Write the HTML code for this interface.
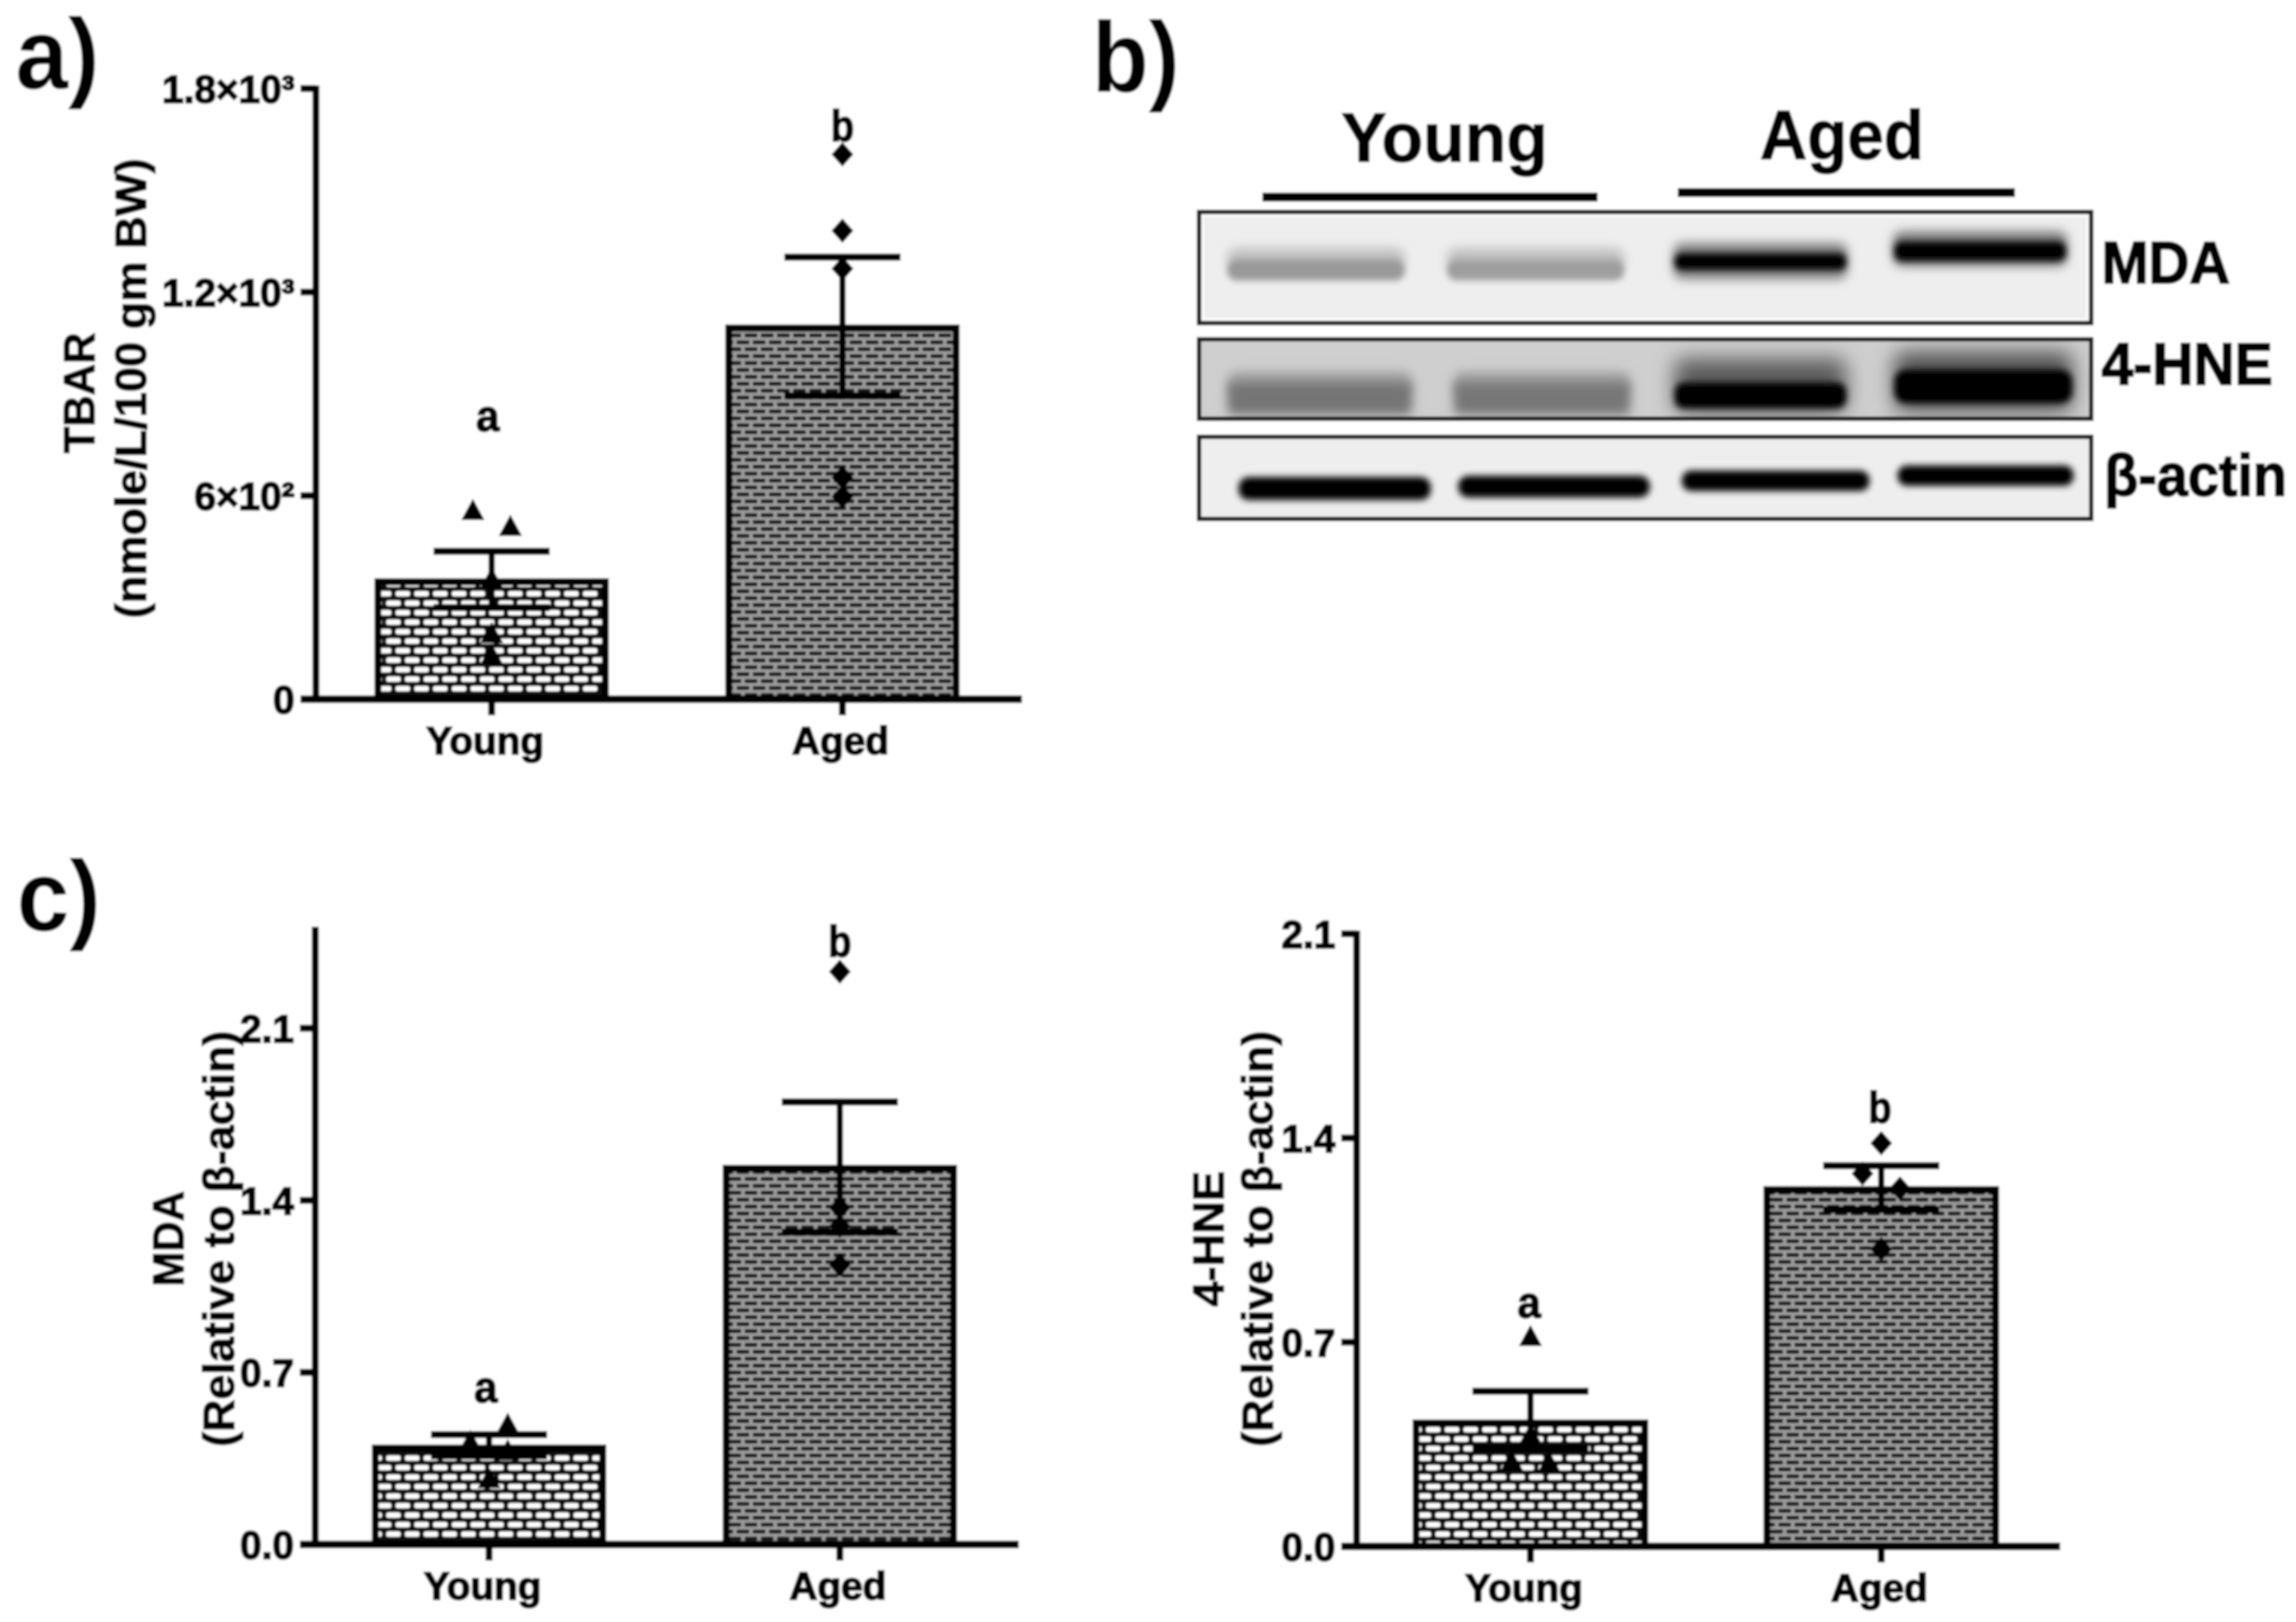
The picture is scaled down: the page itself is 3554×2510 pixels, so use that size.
<!DOCTYPE html>
<html lang="en">
<head>
<meta charset="utf-8">
<title>Oxidative stress markers in young and aged groups</title>
<style>
  html, body { margin: 0; padding: 0; background: #fff; }
  svg { display: block; }
  text { font-family: "Liberation Sans", "DejaVu Sans", sans-serif; font-weight: bold; fill: #000; }
  .heavy { stroke: #000; stroke-width: 1.8px; }
  .heavier { stroke: #000; stroke-width: 2.6px; }
</style>
</head>
<body>
<svg id="figure" xmlns="http://www.w3.org/2000/svg" width="3554" height="2510" viewBox="0 0 3554 2510">
  <defs>
    <filter id="soft" filterUnits="userSpaceOnUse" x="0" y="0" width="3554" height="2510"><feGaussianBlur stdDeviation="1.5"/></filter>
    <filter id="b5" x="-20%" y="-100%" width="140%" height="300%"><feGaussianBlur stdDeviation="5"/></filter>
    <filter id="b8" x="-20%" y="-100%" width="140%" height="300%"><feGaussianBlur stdDeviation="8"/></filter>
    <filter id="b16" x="-20%" y="-100%" width="140%" height="300%"><feGaussianBlur stdDeviation="16"/></filter>
    <pattern id="brick-young" patternUnits="userSpaceOnUse" width="29" height="29.4">
      <rect width="29" height="29.4" fill="#111"/>
      <rect x="3.5" y="3.3" width="22" height="8" rx="3" fill="#fff"/>
      <rect x="-11" y="18" width="22" height="8" rx="3" fill="#fff"/>
      <rect x="18" y="18" width="22" height="8" rx="3" fill="#fff"/>
    </pattern>
    <pattern id="brick-aged" patternUnits="userSpaceOnUse" width="25" height="21.4">
      <rect width="25" height="21.4" fill="#9c9c9c"/>
      <rect x="2.5" y="2.4" width="20" height="6" rx="2" fill="#161616"/>
      <rect x="-10" y="13.1" width="20" height="6" rx="2" fill="#161616"/>
      <rect x="15" y="13.1" width="20" height="6" rx="2" fill="#161616"/>
    </pattern>
    <clipPath id="clip-blot-mda"><rect x="1856" y="328" width="1381" height="173"/></clipPath>
    <clipPath id="clip-blot-hne"><rect x="1856" y="525" width="1381" height="123"/></clipPath>
    <clipPath id="clip-blot-actin"><rect x="1856" y="676" width="1381" height="127"/></clipPath>
  </defs>

  <g id="page" filter="url(#soft)">
    <rect x="0" y="0" width="3554" height="2510" fill="#fff"/>

    <!-- Panel letters -->
    <text x="24" y="137" font-size="155" textLength="130" lengthAdjust="spacingAndGlyphs">a)</text>
    <text x="1690" y="142" font-size="155" textLength="136" lengthAdjust="spacingAndGlyphs">b)</text>
    <text x="26" y="1440" font-size="155" textLength="130" lengthAdjust="spacingAndGlyphs">c)</text>

    <!-- Chart containers (filled by the script) -->
    <g id="chart-tbar"></g>
    <g id="chart-mda"></g>
    <g id="chart-hne"></g>

    <!-- Axis titles -->
    <text class="heavy" transform="translate(146,608) rotate(-90)" text-anchor="middle" font-size="68" textLength="187" lengthAdjust="spacingAndGlyphs">TBAR</text>
    <text class="heavy" transform="translate(226,601) rotate(-90)" text-anchor="middle" font-size="68" textLength="712" lengthAdjust="spacingAndGlyphs">(nmole/L/100 gm BW)</text>
    <text class="heavy" transform="translate(284,1917) rotate(-90)" text-anchor="middle" font-size="68" textLength="148" lengthAdjust="spacingAndGlyphs">MDA</text>
    <text class="heavy" transform="translate(362,1917) rotate(-90)" text-anchor="middle" font-size="68" textLength="644" lengthAdjust="spacingAndGlyphs">(Relative to β-actin)</text>
    <text class="heavy" transform="translate(1894,1917) rotate(-90)" text-anchor="middle" font-size="68" textLength="210" lengthAdjust="spacingAndGlyphs">4-HNE</text>
    <text class="heavy" transform="translate(1970,1917) rotate(-90)" text-anchor="middle" font-size="68" textLength="644" lengthAdjust="spacingAndGlyphs">(Relative to β-actin)</text>

    <!-- Significance letters -->
    <text class="heavier" x="755" y="667" font-size="68" text-anchor="middle" textLength="36" lengthAdjust="spacingAndGlyphs">a</text>
    <text class="heavier" x="1304" y="218" font-size="68" text-anchor="middle" textLength="36" lengthAdjust="spacingAndGlyphs">b</text>
    <text class="heavier" x="752" y="2170" font-size="68" text-anchor="middle" textLength="36" lengthAdjust="spacingAndGlyphs">a</text>
    <text class="heavier" x="1300" y="1480" font-size="68" text-anchor="middle" textLength="36" lengthAdjust="spacingAndGlyphs">b</text>
    <text class="heavier" x="2367" y="2039" font-size="68" text-anchor="middle" textLength="36" lengthAdjust="spacingAndGlyphs">a</text>
    <text class="heavier" x="2910" y="1737" font-size="68" text-anchor="middle" textLength="36" lengthAdjust="spacingAndGlyphs">b</text>

    <!-- Panel b: western blot -->
    <g id="western-blot">
      <text class="heavy" x="2076" y="250" font-size="108" textLength="320" lengthAdjust="spacingAndGlyphs">Young</text>
      <text class="heavy" x="2724" y="246" font-size="108" textLength="254" lengthAdjust="spacingAndGlyphs">Aged</text>
      <rect x="1954" y="298" width="519" height="14" fill="#000"/>
      <rect x="2597" y="291" width="522" height="14" fill="#000"/>

      <g>
        <rect x="1856" y="328" width="1381" height="172" fill="#eeeeee"/>
        <g clip-path="url(#clip-blot-mda)">
          <rect x="1900" y="384" width="274" height="34" rx="14" fill="#c0c0c0" filter="url(#b8)"/>
          <rect x="1900" y="402" width="274" height="32" rx="14" fill="#999" filter="url(#b5)"/>
          <rect x="2240" y="384" width="274" height="34" rx="14" fill="#c0c0c0" filter="url(#b8)"/>
          <rect x="2240" y="402" width="274" height="32" rx="14" fill="#9e9e9e" filter="url(#b5)"/>
          <rect x="2590" y="376" width="270" height="56" rx="14" fill="#808080" filter="url(#b8)"/>
          <rect x="2592" y="392" width="266" height="26" rx="11" fill="#000" filter="url(#b5)"/>
          <rect x="2930" y="358" width="270" height="54" rx="14" fill="#787878" filter="url(#b8)"/>
          <rect x="2932" y="374" width="266" height="30" rx="12" fill="#000" filter="url(#b5)"/>
        </g>
        <rect x="1856" y="328" width="1381" height="172" fill="none" stroke="#1a1a1a" stroke-width="7"/>
        <rect x="1862" y="334" width="1369" height="160" fill="none" stroke="#fff" stroke-width="3"/>
      </g>

      <g>
        <rect x="1856" y="525" width="1381" height="123" fill="#cfcfcf"/>
        <g clip-path="url(#clip-blot-hne)">
          <rect x="1900" y="575" width="286" height="36" rx="14" fill="#a0a0a0" filter="url(#b8)"/>
          <rect x="1900" y="592" width="286" height="50" rx="10" fill="#757575" filter="url(#b8)"/>
          <rect x="2250" y="575" width="274" height="36" rx="14" fill="#a0a0a0" filter="url(#b8)"/>
          <rect x="2250" y="592" width="274" height="50" rx="10" fill="#777" filter="url(#b8)"/>
          <rect x="2592" y="555" width="266" height="84" rx="14" fill="#5a5a5a" filter="url(#b16)"/>
          <rect x="2592" y="592" width="266" height="40" rx="14" fill="#000" filter="url(#b5)"/>
          <rect x="2932" y="545" width="276" height="92" rx="14" fill="#505050" filter="url(#b16)"/>
          <rect x="2932" y="572" width="276" height="52" rx="18" fill="#000" filter="url(#b5)"/>
        </g>
        <rect x="1856" y="525" width="1381" height="123" fill="none" stroke="#1a1a1a" stroke-width="7"/>
      </g>

      <g>
        <rect x="1856" y="676" width="1381" height="127" fill="#eeeeee"/>
        <g clip-path="url(#clip-blot-actin)">
          <rect x="1917" y="738" width="298" height="36" rx="16" fill="#000" filter="url(#b5)"/>
          <rect x="2257" y="736" width="297" height="34" rx="16" fill="#000" filter="url(#b5)"/>
          <rect x="2603" y="728" width="291" height="32" rx="15" fill="#000" filter="url(#b5)"/>
          <rect x="2937" y="720" width="273" height="32" rx="15" fill="#000" filter="url(#b5)"/>
        </g>
        <rect x="1856" y="676" width="1381" height="127" fill="none" stroke="#1a1a1a" stroke-width="7"/>
      </g>

      <text class="heavier" x="3253" y="438" font-size="92" textLength="199" lengthAdjust="spacingAndGlyphs">MDA</text>
      <text class="heavier" x="3253" y="595" font-size="92" textLength="265" lengthAdjust="spacingAndGlyphs">4-HNE</text>
      <text class="heavier" x="3257" y="767" font-size="92" textLength="283" lengthAdjust="spacingAndGlyphs">β-actin</text>
    </g>
  </g>
</svg>

<script>
// ---- Data ----
const categories = ['Young', 'Aged'];

const tbarMeans = [346, 1094];
const tbarUpper = [436, 1303];
const tbarLower = [270, 894];
const tbarYoungPoints = [557, 510, 356, 194, 131];
const tbarAgedPoints = [1606, 1381, 1269, 653, 597];
const tbarTicks = [0, 600, 1200, 1800];
const tbarTickLabels = ['0', '6×10²', '1.2×10³', '1.8×10³'];

const mdaMeans = [0.392, 1.53];
const mdaUpper = [0.447, 1.80];
const mdaLower = [0.36, 1.27];
const mdaYoungPoints = [0.49, 0.42, 0.382, 0.268];
const mdaAgedPoints = [2.33, 1.37, 1.295, 1.137];
const mdaTicks = [0, 0.7, 1.4, 2.1];
const mdaTickLabels = ['0.0', '0.7', '1.4', '2.1'];

const hneMeans = [0.423, 1.223];
const hneUpper = [0.532, 1.305];
const hneLower = [0.335, 1.154];
const hneYoungPoints = [0.72, 0.383, 0.292, 0.288];
const hneAgedPoints = [1.382, 1.278, 1.227, 1.019];
const hneTicks = [0, 0.7, 1.4, 2.1];
const hneTickLabels = ['0.0', '0.7', '1.4', '2.1'];

// ---- Drawing ----
const NS = 'http://www.w3.org/2000/svg';

function make(tag, attrs, parent) {
  const el = document.createElementNS(NS, tag);
  Object.keys(attrs).forEach(function (k) { el.setAttribute(k, attrs[k]); });
  parent.appendChild(el);
  return el;
}

function swarmOffsets(values, yScale) {
  const order = values.map(function (v, i) { return i; }).sort(function (a, b) { return values[a] - values[b]; });
  const offsets = values.map(function () { return 0; });
  let run = [];
  function flush() {
    if (run.length > 1) {
      run.forEach(function (idx, k) { offsets[idx] = k % 2 === 0 ? 29 : -29; });
    }
    run = [];
  }
  order.forEach(function (idx) {
    if (run.length && Math.abs(yScale(values[run[run.length - 1]]) - yScale(values[idx])) >= 27) flush();
    run.push(idx);
  });
  flush();
  return offsets;
}

function drawChart(root, layout, means, upper, lower, pointSets, ticks, tickLabels) {
  const yScale = function (v) { return layout.y0 - (v / layout.yMax) * (layout.y0 - layout.yTop); };
  const xScale = function (i) { return layout.xFirst + i * layout.xStep; };
  const fills = ['url(#brick-young)', 'url(#brick-aged)'];

  categories.forEach(function (cat, i) {
    const cx = xScale(i);
    const top = yScale(means[i]);
    const bar = make('rect', { x: cx - layout.barHalf, y: top, width: layout.barHalf * 2, height: layout.y0 - top, fill: fills[i], stroke: '#000', 'stroke-width': 11 }, root);
    
    

    const stem = make('line', { x1: cx, x2: cx, y1: yScale(upper[i]), y2: yScale(lower[i]), stroke: '#000', 'stroke-width': 10 }, root);
    
    

    const capTop = make('line', { x1: cx - 90, x2: cx + 90, y1: yScale(upper[i]), y2: yScale(upper[i]), stroke: '#000', 'stroke-width': 11 }, root);
    
    

    const capBottom = make('line', { x1: cx - 90, x2: cx + 90, y1: yScale(lower[i]), y2: yScale(lower[i]), stroke: '#000', 'stroke-width': 11 }, root);
    
    

    const offsets = swarmOffsets(pointSets[i], yScale);
    pointSets[i].forEach(function (v, k) {
      const px = cx + offsets[k];
      const py = yScale(v);
      const shape = i === 0
        ? [px, py - 18, px + 18, py + 15, px - 18, py + 15]
        : [px, py - 19, px + 17, py, px, py + 19, px - 17, py];
      const point = make('polygon', { points: shape.join(','), fill: '#000' }, root);
      
      
    });

    const tick = make('line', { x1: cx, x2: cx, y1: layout.y0, y2: layout.y0 + 25, stroke: '#000', 'stroke-width': 11 }, root);
    
    

    const label = make('text', { class: 'heavier', x: cx + (i === 0 ? -10 : -3), y: layout.y0 + 85, 'font-size': 60, 'text-anchor': 'middle' }, root);
    label.textContent = cat;
    
    
  });

  const xAxis = make('line', { x1: layout.xLeft, x2: layout.xRight, y1: layout.y0, y2: layout.y0, stroke: '#000', 'stroke-width': 12 }, root);
  
  

  const yAxis = make('line', { x1: layout.axisX, x2: layout.axisX, y1: layout.yTop - 5, y2: layout.y0, stroke: '#000', 'stroke-width': 11 }, root);
  
  

  ticks.forEach(function (t, i) {
    const ty = yScale(t);
    const tick = make('line', { x1: layout.axisX - 24, x2: layout.axisX, y1: ty, y2: ty, stroke: '#000', 'stroke-width': 11 }, root);
    
    

    const label = make('text', { class: 'heavier', x: layout.axisX - 33, y: ty + 22, 'font-size': 60, 'text-anchor': 'end' }, root);
    label.textContent = tickLabels[i];
    
    
  });
}

drawChart(
  document.getElementById('chart-tbar'),
  { axisX: 489, xLeft: 465, xRight: 1582, y0: 1082, yTop: 137, yMax: 1800, xFirst: 761, xStep: 543, barHalf: 176 },
  tbarMeans, tbarUpper, tbarLower, [tbarYoungPoints, tbarAgedPoints], tbarTicks, tbarTickLabels
);
drawChart(
  document.getElementById('chart-mda'),
  { axisX: 488, xLeft: 465, xRight: 1577, y0: 2390, yTop: 1439, yMax: 2.5, xFirst: 757, xStep: 543, barHalf: 176 },
  mdaMeans, mdaUpper, mdaLower, [mdaYoungPoints, mdaAgedPoints], mdaTicks, mdaTickLabels
);
drawChart(
  document.getElementById('chart-hne'),
  { axisX: 2100, xLeft: 2077, xRight: 3189, y0: 2393, yTop: 1445, yMax: 2.1, xFirst: 2369, xStep: 543, barHalf: 177 },
  hneMeans, hneUpper, hneLower, [hneYoungPoints, hneAgedPoints], hneTicks, hneTickLabels
);
</script>
</body>
</html>
